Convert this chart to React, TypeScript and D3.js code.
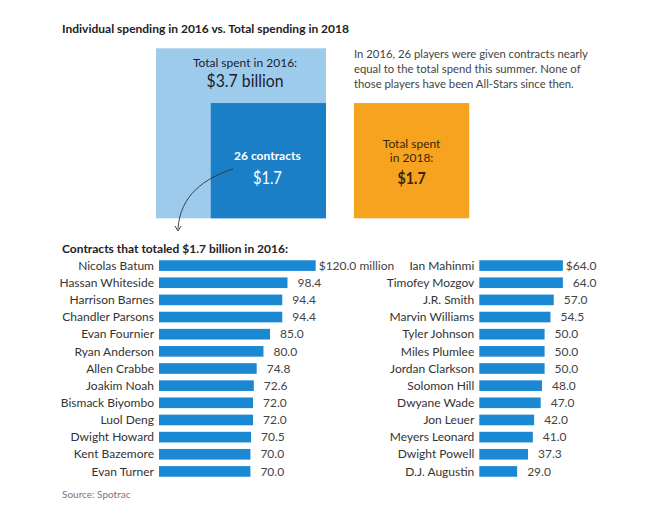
import React from "react";
import * as d3 from "d3";

const leftNames = ["Nicolas Batum","Hassan Whiteside","Harrison Barnes","Chandler Parsons","Evan Fournier","Ryan Anderson","Allen Crabbe","Joakim Noah","Bismack Biyombo","Luol Deng","Dwight Howard","Kent Bazemore","Evan Turner"];
const leftValues = [120.0,98.4,94.4,94.4,85.0,80.0,74.8,72.6,72.0,72.0,70.5,70.0,70.0];
const rightNames = ["Ian Mahinmi","Timofey Mozgov","J.R. Smith","Marvin Williams","Tyler Johnson","Miles Plumlee","Jordan Clarkson","Solomon Hill","Dwyane Wade","Jon Leuer","Meyers Leonard","Dwight Powell","D.J. Augustin"];
const rightValues = [64.0,64.0,57.0,54.5,50.0,50.0,50.0,48.0,47.0,42.0,41.0,37.3,29.0];
const totals = { total2016: 3.7, contracts2016: 1.7, total2018: 1.7 };

const FONT = "Lato, 'Noto Sans', sans-serif";

export default function App() {
  const W = 650, H = 523;
  const x = d3.scaleLinear().domain([0, 120]).range([0, 156.7]);
  const yL = d3.scaleBand<string>().domain(leftNames).range([257, 480]).paddingInner(0.38).paddingOuter(0.19);
  const yR = d3.scaleBand<string>().domain(rightNames).range([257, 480]).paddingInner(0.38).paddingOuter(0.19);
  const side = d3.scaleSqrt().domain([0, 3.7]).range([0, 170]);

  const bigS = side(totals.total2016);
  const bigX = 156, bigY = 48.3;
  const bigBottom = bigY + bigS, bigRight = bigX + bigS;
  const midS = side(totals.contracts2016);
  const midX = bigRight - midS, midY = bigBottom - midS;
  const orS = side(totals.total2018);
  const orX = 354, orY = bigBottom - orS;

  const barColor = "#1a88d2";
  const leftX0 = 159, rightX0 = 479.3;

  const renderCol = (names: string[], vals: number[], y: d3.ScaleBand<string>, x0: number, firstLabel: string) =>
    names.map((n, i) => {
      const yy = y(n)!;
      const bw = y.bandwidth();
      const cy = yy + bw / 2;
      const w = x(vals[i]);
      return (
        <g key={n}>
          <text x={x0 - 5} y={cy} dy="0.35em" textAnchor="end" fontSize={12} fill="#333" fontFamily={FONT}>{n}</text>
          <rect x={x0} y={yy} width={w} height={bw} fill={barColor} />
          <text x={x0 + w + (i === 0 ? 3 : 10)} y={cy} dy="0.35em" fontSize={12} fill="#444" fontFamily={FONT}>
            {i === 0 ? firstLabel : vals[i].toFixed(1)}
          </text>
        </g>
      );
    });

  return (
    <svg width={W} height={H} style={{ position: "absolute", left: 0, top: 0, background: "#fff" }}>
      <text x={62} y={33} fontSize={12} fontWeight="bold" fill="#222" fontFamily={FONT}>
        Individual spending in 2016 vs. Total spending in 2018
      </text>

      <rect x={bigX} y={bigY} width={bigS} height={bigS} fill="#9dcbec" />
      <rect x={midX} y={midY} width={midS} height={midS} fill="#1a7fc6" />
      <text x={bigX + bigS / 2 + 4} y={67} textAnchor="middle" fontSize={12} fill="#1b1b2b" fontFamily={FONT}>Total spent in 2016:</text>
      <text x={bigX + bigS / 2 + 4} y={87} textAnchor="middle" fontSize={17} fill="#1b1b2b" fontFamily={FONT} textLength={77} lengthAdjust="spacingAndGlyphs">$3.7 billion</text>
      <text x={midX + midS / 2 - 1} y={160} textAnchor="middle" fontSize={12} fontWeight="bold" fill="#fff" fontFamily={FONT}>26 contracts</text>
      <text x={midX + midS / 2 - 1} y={184} textAnchor="middle" fontSize={17} fill="#fff" fontFamily={FONT} textLength={29} lengthAdjust="spacingAndGlyphs">$1.7</text>

      <path d="M233,169 C205,178 180,195 178,229" fill="none" stroke="#333" strokeWidth={0.9} />
      <path d="M175,226 L178,231 L181,226" fill="none" stroke="#333" strokeWidth={0.9} />

      {["In 2016, 26 players were given contracts nearly", "equal to the total spend this summer. None of", "those players have been All-Stars since then."].map((t, i) => (
        <text key={i} x={354} y={57.5 + i * 15} fontSize={11.3} fill="#444" fontFamily={FONT}>{t}</text>
      ))}

      <rect x={orX} y={orY} width={orS} height={orS} fill="#f6a31f" />
      <text x={orX + orS / 2} y={147.5} textAnchor="middle" fontSize={12} fill="#3a2508" fontFamily={FONT}>Total spent</text>
      <text x={orX + orS / 2} y={162} textAnchor="middle" fontSize={12} fill="#3a2508" fontFamily={FONT}>in 2018:</text>
      <text x={orX + orS / 2} y={184} textAnchor="middle" fontSize={17} fontWeight="bold" fill="#3a2508" fontFamily={FONT} textLength={28} lengthAdjust="spacingAndGlyphs">$1.7</text>

      <text x={62} y={252.5} fontSize={12} fontWeight="bold" fill="#222" fontFamily={FONT}>Contracts that totaled $1.7 billion in 2016:</text>

      {renderCol(leftNames, leftValues, yL, leftX0, "$120.0 million")}
      {renderCol(rightNames, rightValues, yR, rightX0, "$64.0")}

      <text x={62} y={498} fontSize={10} fill="#777" fontFamily={FONT}>Source: Spotrac</text>
    </svg>
  );
}
